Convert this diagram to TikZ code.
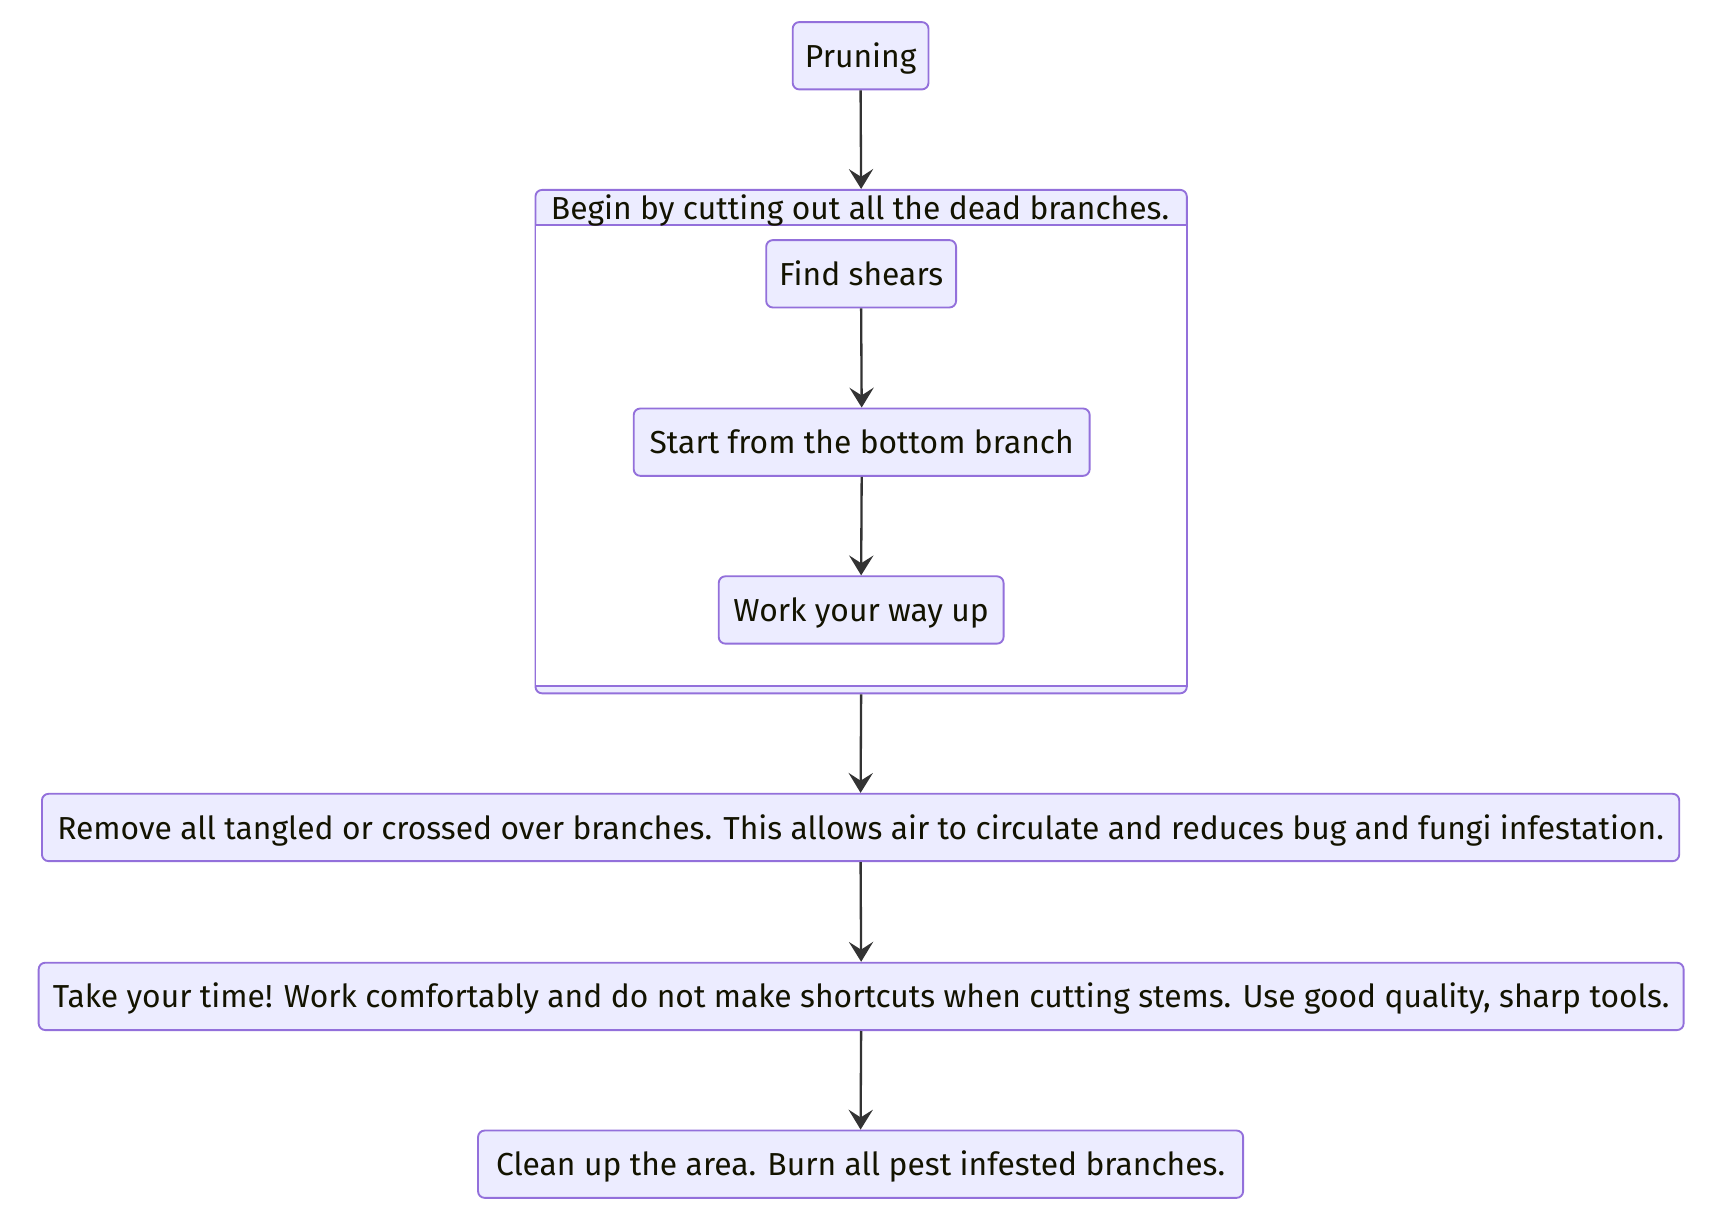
\documentclass[tikz,border=0pt]{standalone}
\usepackage{fontspec}
\setmainfont{Fira Sans}
\usetikzlibrary{arrows.meta}
\definecolor{lav}{HTML}{ECECFF}
\definecolor{purp}{HTML}{9370DB}
\definecolor{txt}{HTML}{131300}
\definecolor{edge}{HTML}{333333}
\tikzset{
  box/.style={draw=purp, fill=lav, line width=1.7pt, rounded corners=6pt,
    minimum height=61pt, inner sep=0pt, text=txt, text height=26pt, text depth=5pt,
    font=\fontsize{28.8}{33}\selectfont},
  flow/.style={draw=edge, line width=2.1pt,
    -{Stealth[length=18pt,width=22pt,inset=7pt]}},
  ttl/.style={text=txt, inner sep=0pt, text height=26pt, text depth=5pt,
    font=\fontsize{28.8}{33}\selectfont}
}
\begin{document}
\begin{tikzpicture}[x=1pt,y=-1pt]
\useasboundingbox (0,0) rectangle (1567,1108.7);
% cluster
\node[draw=purp, fill=lav, line width=1.7pt, rounded corners=6pt,
  minimum width=590pt, minimum height=456pt, inner sep=0pt] (cl) at (780,400) {};
\fill[white] (485.8,204) rectangle (1074.2,621);
\draw[purp, line width=1.7pt] (485,204) -- (1075,204);
\draw[purp, line width=1.7pt] (485,621) -- (1075,621);
\draw[purp, line width=1.7pt] (485,204) -- (485,621);
\draw[purp, line width=1.7pt] (1075,204) -- (1075,621);
\node[ttl] (title) at (779,188.5) {Begin by cutting out all the dead branches.};
% nodes
\node[box, minimum width=123pt] (p) at (779.5,50.5) {Pruning};
\node[box, minimum width=172pt] (a) at (780,248) {Find shears};
\node[box, minimum width=413pt] (b) at (780.5,400.5) {Start from the bottom branch};
\node[box, minimum width=258pt] (c) at (780,552.5) {Work your way up};
\node[box, minimum width=1483pt] (d) at (779.5,749.5) {Remove all tangled or crossed over branches. This allows air to circulate and reduces bug and fungi infestation.};
\node[box, minimum width=1490pt] (e) at (780,902.5) {Take your time! Work comfortably and do not make shortcuts when cutting stems. Use good quality, sharp tools.};
\node[box, minimum width=693pt] (f) at (779.5,1054.5) {Clean up the area. Burn all pest infested branches.};
% edges
\draw[flow] (p.south) -- (cl.north);
\draw[flow] (a.south) -- (b.north);
\draw[flow] (b.south) -- (c.north);
\draw[flow] (cl.south) -- (d.north);
\draw[flow] (d.south) -- (e.north);
\draw[flow] (e.south) -- (f.north);
\end{tikzpicture}
\end{document}
